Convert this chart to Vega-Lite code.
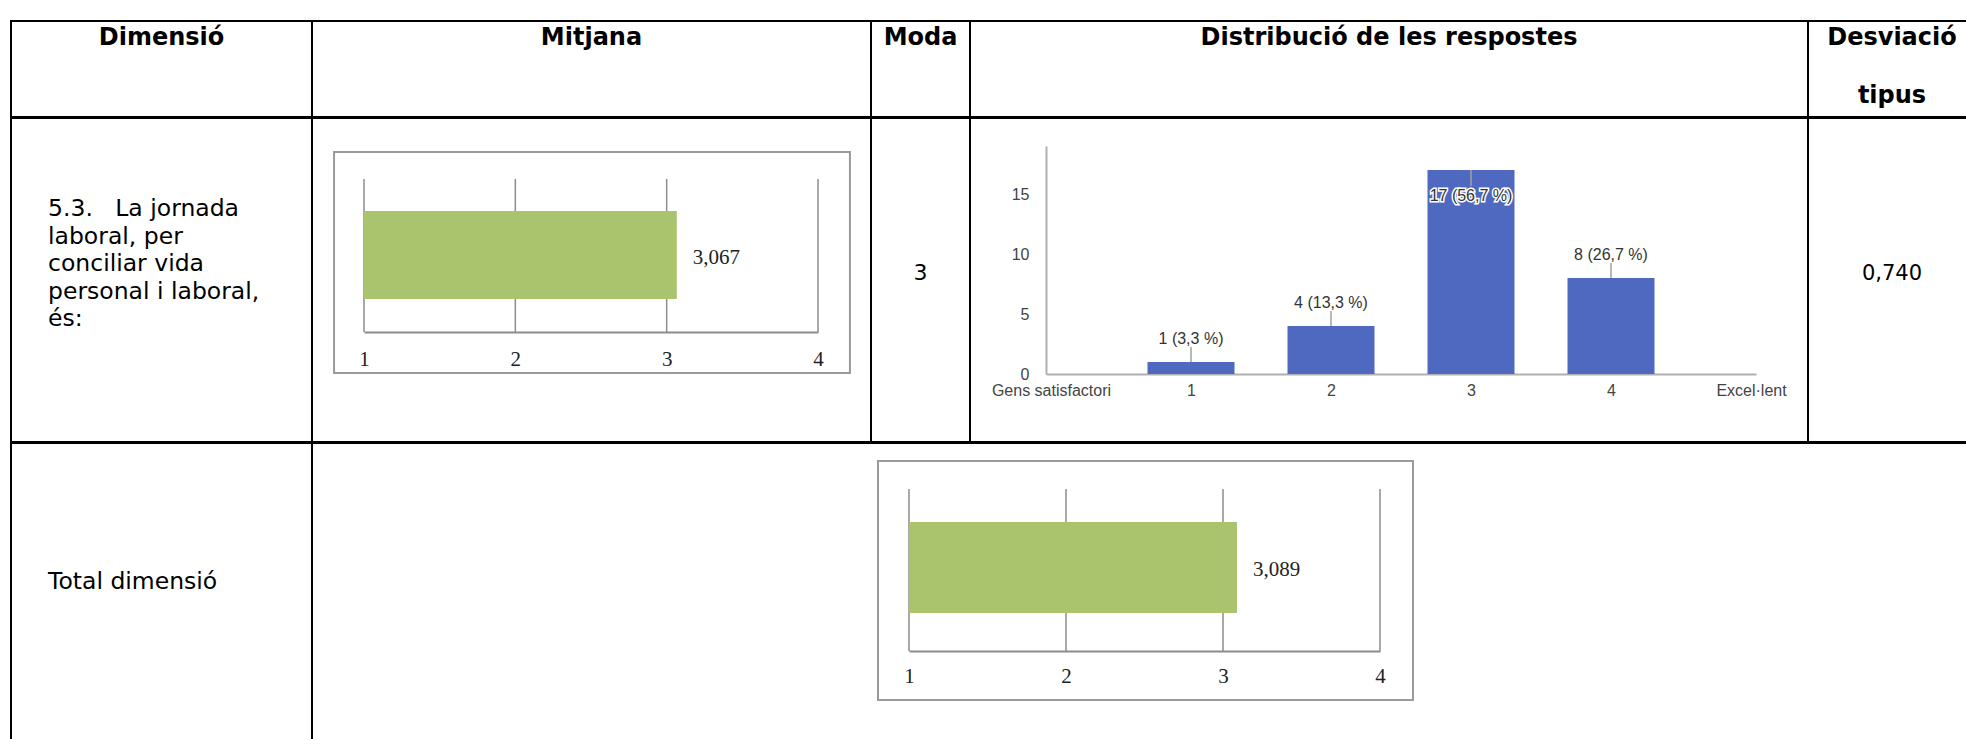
{
  "$schema": "https://vega.github.io/schema/vega-lite/v6.json",
  "background": "white",
  "padding": {"left": 10, "top": 20, "right": 0, "bottom": 0},
  "spacing": -2,
  "config": {
    "view": {"stroke": "#000000", "strokeWidth": 2},
    "locale": {"number": {"decimal": ",", "thousands": ".", "grouping": [3], "currency": ["", " €"]}},
    "axis": {"ticks": false, "tickSize": 0, "grid": false}
  },
  "vconcat": [
    {
      "spacing": 0,
      "bounds": "flush",
      "hconcat": [
        {"width": 301, "height": 96, "data": {"values": [{"t": "Dimensió"}]},
         "mark": {"type": "text", "font": "DejaVu Sans", "fontSize": 24, "fontWeight": "bold", "baseline": "alphabetic", "color": "#000"},
         "encoding": {
           "x": {"datum": 0.5, "type": "quantitative", "scale": {"domain": [0, 1]}, "axis": null},
           "y": {"datum": 0.25, "type": "quantitative", "scale": {"domain": [0, 1], "reverse": true}, "axis": null},
           "text": {"field": "t", "type": "nominal"}}},
        {"width": 559, "height": 96, "data": {"values": [{"t": "Mitjana"}]},
         "mark": {"type": "text", "font": "DejaVu Sans", "fontSize": 24, "fontWeight": "bold", "baseline": "alphabetic", "color": "#000"},
         "encoding": {
           "x": {"datum": 0.5, "type": "quantitative", "scale": {"domain": [0, 1]}, "axis": null},
           "y": {"datum": 0.25, "type": "quantitative", "scale": {"domain": [0, 1], "reverse": true}, "axis": null},
           "text": {"field": "t", "type": "nominal"}}},
        {"width": 99, "height": 96, "data": {"values": [{"t": "Moda"}]},
         "mark": {"type": "text", "font": "DejaVu Sans", "fontSize": 24, "fontWeight": "bold", "baseline": "alphabetic", "color": "#000"},
         "encoding": {
           "x": {"datum": 0.5, "type": "quantitative", "scale": {"domain": [0, 1]}, "axis": null},
           "y": {"datum": 0.25, "type": "quantitative", "scale": {"domain": [0, 1], "reverse": true}, "axis": null},
           "text": {"field": "t", "type": "nominal"}}},
        {"width": 838, "height": 96, "data": {"values": [{"t": "Distribució de les respostes"}]},
         "mark": {"type": "text", "font": "DejaVu Sans", "fontSize": 24, "fontWeight": "bold", "baseline": "alphabetic", "color": "#000"},
         "encoding": {
           "x": {"datum": 0.5, "type": "quantitative", "scale": {"domain": [0, 1]}, "axis": null},
           "y": {"datum": 0.25, "type": "quantitative", "scale": {"domain": [0, 1], "reverse": true}, "axis": null},
           "text": {"field": "t", "type": "nominal"}}},
        {"width": 168, "height": 96, "data": {"values": [{"t": "Desviació\ntipus"}]},
         "mark": {"type": "text", "font": "DejaVu Sans", "fontSize": 24, "fontWeight": "bold", "baseline": "alphabetic", "lineBreak": "\n", "lineHeight": 58, "color": "#000"},
         "encoding": {
           "x": {"datum": 0.5, "type": "quantitative", "scale": {"domain": [0, 1]}, "axis": null},
           "y": {"datum": 0.25, "type": "quantitative", "scale": {"domain": [0, 1], "reverse": true}, "axis": null},
           "text": {"field": "t", "type": "nominal"}}}
      ]
    },
    {
      "spacing": 0,
      "bounds": "flush",
      "hconcat": [
        {"width": 301, "height": 324, "data": {"values": [{"t": "5.3.\u00a0\u00a0\u00a0La jornada\nlaboral, per\nconciliar vida\npersonal i laboral,\nés:"}]},
         "mark": {"type": "text", "font": "DejaVu Sans", "fontSize": 23.5, "align": "left", "baseline": "alphabetic", "lineBreak": "\n", "lineHeight": 27.5, "color": "#000"},
         "encoding": {
           "x": {"datum": 0.123, "type": "quantitative", "scale": {"domain": [0, 1]}, "axis": null},
           "y": {"datum": 0.303, "type": "quantitative", "scale": {"domain": [0, 1], "reverse": true}, "axis": null},
           "text": {"field": "t", "type": "nominal"}}},
        {"width": 559, "height": 324,
         "data": {"values": [{"item": "5.3", "mitjana": 3.067}]},
         "resolve": {"axis": {"x": "independent", "y": "independent"}},
         "layer": [
           {"mark": {"type": "rect", "fill": "transparent", "stroke": "#9a9a9a", "strokeWidth": 2},
            "encoding": {
              "x": {"datum": 0.802, "type": "quantitative", "scale": {"domain": [1, 4], "range": [52, 506], "nice": false, "zero": false},
                    "axis": {"orient": "bottom", "offset": -110, "zindex": 1, "values": [1, 2, 3, 4], "format": "d", "domain": true, "domainColor": "#8c8c8c", "domainWidth": 2, "labelFont": "Liberation Serif", "labelFontSize": 21, "labelColor": "#222", "labelPadding": 27, "labelBaseline": "middle", "labelFlush": false, "title": null}},
              "x2": {"datum": 4.211},
              "y": {"datum": -0.841, "type": "quantitative", "scale": {"domain": [0, 1], "range": [181, 93], "nice": false, "zero": false}, "axis": null},
              "y2": {"datum": 1.67}
            }},
           {"data": {"values": [{"v": 1}, {"v": 2}, {"v": 3}, {"v": 4}]},
            "mark": {"type": "rule", "color": "#8c8c8c", "strokeWidth": 1.5},
            "encoding": {
              "x": {"field": "v", "type": "quantitative", "axis": null},
              "y": {"datum": -0.375, "type": "quantitative", "axis": null},
              "y2": {"datum": 1.364}
            }},
           {"mark": {"type": "rect", "color": "#a9c46c"},
            "encoding": {
              "x": {"field": "mitjana", "type": "quantitative", "axis": null},
              "x2": {"datum": 1},
              "y": {"datum": 0, "type": "quantitative", "axis": null},
              "y2": {"datum": 1}
            }},
           {"mark": {"type": "text", "align": "left", "dx": 16, "dy": 3, "baseline": "middle", "font": "Liberation Serif", "fontSize": 21, "color": "#222"},
            "encoding": {
              "x": {"field": "mitjana", "type": "quantitative", "axis": null},
              "y": {"datum": 0.5, "type": "quantitative", "axis": null},
              "text": {"field": "mitjana", "type": "quantitative", "format": ".3f"}
            }}
         ]},
        {"width": 99, "height": 324, "data": {"values": [{"moda": 3}]},
         "mark": {"type": "text", "font": "DejaVu Sans", "fontSize": 22, "baseline": "alphabetic", "color": "#000"},
         "encoding": {
           "x": {"datum": 0.5, "type": "quantitative", "scale": {"domain": [0, 1]}, "axis": null},
           "y": {"datum": 0.5, "type": "quantitative", "scale": {"domain": [0, 1], "reverse": true}, "axis": null},
           "text": {"field": "moda", "type": "quantitative", "format": "d"}}},
        {"width": 838, "height": 324,
         "data": {"values": [
           {"resposta": 1, "n": 1, "etiqueta": "1 (3,3 %)"},
           {"resposta": 2, "n": 4, "etiqueta": "4 (13,3 %)"},
           {"resposta": 3, "n": 17, "etiqueta": "17 (56,7 %)"},
           {"resposta": 4, "n": 8, "etiqueta": "8 (26,7 %)"}
         ]},
         "resolve": {"axis": {"x": "independent", "y": "independent"}},
         "layer": [
           {"mark": {"type": "bar", "orient": "vertical", "width": 87, "color": "#5069c0"},
            "encoding": {
              "x": {"field": "resposta", "type": "quantitative", "scale": {"domain": [0, 5], "range": [76, 786], "nice": false, "zero": false},
                    "axis": {"orient": "bottom", "offset": -68, "values": [0, 1, 2, 3, 4, 5], "labelExpr": "datum.value == 0 ? 'Gens satisfactori' : (datum.value == 5 ? 'Excel·lent' : datum.label)", "domainColor": "#b0b0b0", "domainWidth": 2, "labelFont": "Liberation Sans", "labelFontSize": 16, "labelColor": "#444", "labelPadding": 8, "labelFlush": false, "labelOverlap": false, "title": null}},
              "y": {"field": "n", "type": "quantitative", "scale": {"domain": [0, 19], "range": [256, 28], "nice": false},
                    "axis": {"orient": "left", "offset": -76, "values": [0, 5, 10, 15], "domainColor": "#b0b0b0", "domainWidth": 2, "labelFont": "Liberation Sans", "labelFontSize": 16, "labelColor": "#444", "labelPadding": 17, "title": null}}
            }},
           {"transform": [{"filter": "datum.n < 15"}],
            "mark": {"type": "rule", "color": "#a0a0a0", "strokeWidth": 1.5, "y2Offset": -15},
            "encoding": {
              "x": {"field": "resposta", "type": "quantitative", "axis": null},
              "y": {"field": "n", "type": "quantitative", "axis": null},
              "y2": {"field": "n"}
            }},
           {"transform": [{"filter": "datum.n >= 15"}],
            "mark": {"type": "rule", "color": "#a0a0a0", "strokeWidth": 1.5, "y2Offset": 16},
            "encoding": {
              "x": {"field": "resposta", "type": "quantitative", "axis": null},
              "y": {"field": "n", "type": "quantitative", "axis": null},
              "y2": {"field": "n"}
            }},
           {"transform": [{"filter": "datum.n < 15"}],
            "mark": {"type": "text", "font": "Liberation Sans", "fontSize": 16, "color": "#333", "baseline": "middle", "dy": -23},
            "encoding": {
              "x": {"field": "resposta", "type": "quantitative", "axis": null},
              "y": {"field": "n", "type": "quantitative", "axis": null},
              "text": {"field": "etiqueta", "type": "nominal"}
            }},
           {"transform": [{"filter": "datum.n >= 15"}],
            "mark": {"type": "text", "font": "Liberation Sans", "fontSize": 16, "color": "#333", "stroke": "white", "strokeWidth": 3, "baseline": "middle", "dy": 26},
            "encoding": {
              "x": {"field": "resposta", "type": "quantitative", "axis": null},
              "y": {"field": "n", "type": "quantitative", "axis": null},
              "text": {"field": "etiqueta", "type": "nominal"}
            }},
           {"transform": [{"filter": "datum.n >= 15"}],
            "mark": {"type": "text", "font": "Liberation Sans", "fontSize": 16, "color": "#333", "baseline": "middle", "dy": 26},
            "encoding": {
              "x": {"field": "resposta", "type": "quantitative", "axis": null},
              "y": {"field": "n", "type": "quantitative", "axis": null},
              "text": {"field": "etiqueta", "type": "nominal"}
            }}
         ]},
        {"width": 168, "height": 324, "data": {"values": [{"desviacio": 0.74}]},
         "mark": {"type": "text", "font": "DejaVu Sans", "fontSize": 21, "baseline": "alphabetic", "color": "#000"},
         "encoding": {
           "x": {"datum": 0.5, "type": "quantitative", "scale": {"domain": [0, 1]}, "axis": null},
           "y": {"datum": 0.5, "type": "quantitative", "scale": {"domain": [0, 1], "reverse": true}, "axis": null},
           "text": {"field": "desviacio", "type": "quantitative", "format": ".3f"}}}
      ]
    },
    {
      "spacing": 0,
      "bounds": "flush",
      "hconcat": [
        {"width": 301, "height": 320, "data": {"values": [{"t": "Total dimensió"}]},
         "mark": {"type": "text", "font": "DejaVu Sans", "fontSize": 23.5, "align": "left", "baseline": "alphabetic", "color": "#000"},
         "encoding": {
           "x": {"datum": 0.123, "type": "quantitative", "scale": {"domain": [0, 1]}, "axis": null},
           "y": {"datum": 0.456, "type": "quantitative", "scale": {"domain": [0, 1], "reverse": true}, "axis": null},
           "text": {"field": "t", "type": "nominal"}}},
        {"width": 1664, "height": 320,
         "data": {"values": [{"item": "Total", "mitjana": 3.089}]},
         "resolve": {"axis": {"x": "independent", "y": "independent"}},
         "layer": [
           {"mark": {"type": "rect", "fill": "transparent", "stroke": "#9a9a9a", "strokeWidth": 2},
            "encoding": {
              "x": {"datum": 0.8025, "type": "quantitative", "scale": {"domain": [1, 4], "range": [597, 1068], "nice": false, "zero": false},
                    "axis": {"orient": "bottom", "offset": -112, "zindex": 1, "values": [1, 2, 3, 4], "format": "d", "domain": true, "domainColor": "#8c8c8c", "domainWidth": 2, "labelFont": "Liberation Serif", "labelFontSize": 21, "labelColor": "#222", "labelPadding": 25, "labelBaseline": "middle", "labelFlush": false, "title": null}},
              "x2": {"datum": 4.21},
              "y": {"datum": -0.956, "type": "quantitative", "scale": {"domain": [0, 1], "range": [170, 79], "nice": false, "zero": false}, "axis": null},
              "y2": {"datum": 1.67}
            }},
           {"data": {"values": [{"v": 1}, {"v": 2}, {"v": 3}, {"v": 4}]},
            "mark": {"type": "rule", "color": "#8c8c8c", "strokeWidth": 1.5},
            "encoding": {
              "x": {"field": "v", "type": "quantitative", "axis": null},
              "y": {"datum": -0.418, "type": "quantitative", "axis": null},
              "y2": {"datum": 1.363}
            }},
           {"mark": {"type": "rect", "color": "#a9c46c"},
            "encoding": {
              "x": {"field": "mitjana", "type": "quantitative", "axis": null},
              "x2": {"datum": 1},
              "y": {"datum": 0, "type": "quantitative", "axis": null},
              "y2": {"datum": 1}
            }},
           {"mark": {"type": "text", "align": "left", "dx": 16, "dy": 2, "baseline": "middle", "font": "Liberation Serif", "fontSize": 21, "color": "#222"},
            "encoding": {
              "x": {"field": "mitjana", "type": "quantitative", "axis": null},
              "y": {"datum": 0.5, "type": "quantitative", "axis": null},
              "text": {"field": "mitjana", "type": "quantitative", "format": ".3f"}
            }}
         ]}
      ]
    }
  ]
}
